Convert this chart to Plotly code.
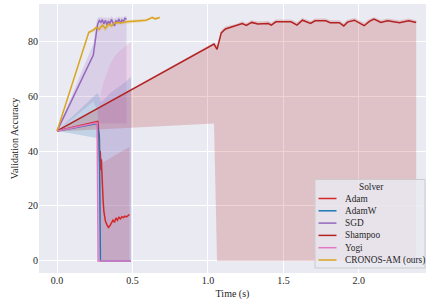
import plotly.graph_objects as go

# ---------------- data ----------------
cronos_x = [0, 0.21, 0.24, 0.26, 0.28, 0.30, 0.32, 0.34, 0.36, 0.38, 0.40, 0.43, 0.46, 0.50, 0.55, 0.59, 0.62, 0.63, 0.65, 0.68]
cronos_y = [47.3, 83.2, 84.0, 85.0, 84.3, 85.8, 84.6, 86.2, 85.6, 86.5, 86.8, 86.7, 87.0, 87.2, 87.4, 87.6, 88.3, 88.6, 88.1, 88.6]
cronos_up = [47.5, 83.8, 84.8, 85.8, 85.5, 86.8, 85.8, 87.2, 86.6, 87.4, 87.6, 87.4, 87.7, 87.8, 88.0, 88.1, 88.7, 89.0, 88.6, 89.0]
cronos_lo = [47.1, 82.6, 83.2, 84.2, 83.1, 84.8, 83.4, 85.2, 84.6, 85.6, 86.0, 86.0, 86.3, 86.6, 86.8, 87.1, 87.9, 88.2, 87.6, 88.2]

sgd_x = [0, 0.24, 0.265, 0.27, 0.28, 0.29, 0.30, 0.31, 0.32, 0.33, 0.34, 0.35, 0.36, 0.37, 0.38, 0.39, 0.40, 0.41, 0.42, 0.43, 0.44, 0.45, 0.46]
sgd_y = [47.3, 74.9, 85.0, 86.3, 87.5, 86.8, 87.8, 86.2, 87.6, 85.9, 87.3, 86.4, 87.9, 86.7, 85.5, 87.4, 86.9, 88.0, 86.5, 87.7, 87.2, 88.3, 87.9]
sgd_up = [47.5, 79.0, 88.0, 88.5, 88.8, 88.6, 88.9, 88.4, 88.8, 88.2, 88.7, 88.4, 89.0, 88.6, 88.0, 88.7, 88.5, 89.0, 88.5, 88.9, 88.7, 89.2, 89.0]
sgd_lo = [47.1, 58.0, 55.0, 52.0, 50.0, 50.0, 50.0, 50.0, 50.0, 50.0, 50.0, 50.0, 50.0, 50.0, 50.0, 50.0, 50.0, 50.0, 50.0, 50.0, 50.0, 50.0, 50.0]

shampoo_x = [0, 1.04, 1.06, 1.088, 1.116, 1.16, 1.19, 1.227, 1.254, 1.29, 1.33, 1.40, 1.42, 1.45, 1.50, 1.55, 1.59, 1.626, 1.68, 1.71, 1.78, 1.81, 1.87, 1.90, 1.925, 1.97, 2.035, 2.07, 2.10, 2.146, 2.19, 2.27, 2.33, 2.38]
shampoo_y = [47.3, 78.9, 77.0, 83.0, 84.4, 85.2, 85.5, 86.4, 85.7, 86.8, 86.2, 86.4, 85.8, 87.0, 87.0, 87.0, 85.8, 87.6, 86.4, 87.4, 87.4, 86.7, 86.7, 85.5, 86.9, 87.6, 85.6, 87.2, 88.0, 86.8, 87.4, 86.7, 87.4, 86.8]
shampoo_up = [47.5, 79.5, 78.5, 84.0, 85.3, 86.0, 86.3, 87.2, 86.6, 87.6, 87.1, 87.3, 86.8, 87.9, 87.9, 87.9, 86.9, 88.4, 87.3, 88.2, 88.2, 87.6, 87.6, 86.6, 87.8, 88.4, 86.7, 88.0, 88.7, 87.7, 88.2, 87.6, 88.2, 87.6]
shampoo_lo = [47.1, 50.0, 0, 0, 0, 0, 0, 0, 0, 0, 0, 0, 0, 0, 0, 0, 0, 0, 0, 0, 0, 0, 0, 0, 0, 0, 0, 0, 0, 0, 0, 0, 0, 0]

adam_x = [0, 0.27, 0.278, 0.282, 0.286, 0.29, 0.293, 0.297, 0.30, 0.305, 0.31, 0.32, 0.33, 0.34, 0.35, 0.36, 0.37, 0.38, 0.39, 0.40, 0.41, 0.42, 0.43, 0.44, 0.45, 0.46, 0.47, 0.48]
adam_y = [47.3, 50.8, 45.0, 36.0, 40.0, 33.0, 37.0, 30.0, 28.0, 22.0, 18.0, 14.5, 13.2, 12.2, 12.8, 13.6, 14.8, 14.0, 15.6, 14.8, 15.9, 15.3, 16.1, 15.8, 16.3, 16.0, 16.6, 16.9]
adam_up = [47.5, 51.2, 50.0, 45.0, 44.0, 40.0, 38.0, 37.0, 36.5, 36.0, 36.0, 36.3, 36.6, 37.0, 37.3, 37.7, 38.0, 38.4, 38.7, 39.0, 39.3, 39.6, 40.0, 40.3, 40.6, 41.0, 41.3, 41.5]
adam_lo = [47.1, 50.2, 30.0, 20.0, 10.0, 5.0, 0, 0, 0, 0, 0, 0, 0, 0, 0, 0, 0, 0, 0, 0, 0, 0, 0, 0, 0, 0, 0, 0]

adamw_x = [0, 0.265, 0.28, 0.287, 0.30, 0.35, 0.40, 0.45, 0.49]
adamw_y = [47.3, 50.0, 45.0, 0, 0, 0, 0, 0, 0]
adamw_up = [47.3, 61.0, 60.0, 58.0, 58.0, 61.0, 63.0, 65.0, 67.0]
adamw_lo = [47.3, 44.7, 0, 0, 0, 0, 0, 0, 0]

yogi_x = [0, 0.265, 0.272, 0.28, 0.29, 0.308, 0.33, 0.352, 0.38, 0.419, 0.45, 0.485, 0.49]
yogi_y = [47.3, 50.3, 0, 0, 0, 0, 0, 0, 0, 0, 0, 0, 0]
yogi_up = [47.5, 51.0, 51.0, 56.0, 61.0, 65.0, 68.8, 71.8, 74.5, 76.7, 78.0, 79.7, 79.8]
yogi_lo = [47.1, 49.5, 0, 0, 0, 0, 0, 0, 0, 0, 0, 0, 0]

solver_names = ["Adam", "AdamW", "SGD", "Shampoo", "Yogi", "CRONOS-AM (ours)"]
line_colors = ["#d62728", "#1f77b4", "#9467bd", "#b22222", "#e377c2", "#daa520"]
band_colors = ["rgba(214,39,40,0.2)", "rgba(31,119,180,0.2)", "rgba(148,103,189,0.2)",
               "rgba(178,34,34,0.2)", "rgba(227,119,194,0.2)", "rgba(218,165,32,0.2)"]
xs_all = [adam_x, adamw_x, sgd_x, shampoo_x, yogi_x, cronos_x]
ys_all = [adam_y, adamw_y, sgd_y, shampoo_y, yogi_y, cronos_y]
up_all = [adam_up, adamw_up, sgd_up, shampoo_up, yogi_up, cronos_up]
lo_all = [adam_lo, adamw_lo, sgd_lo, shampoo_lo, yogi_lo, cronos_lo]

x_ticks = [0.0, 0.5, 1.0, 1.5, 2.0]
y_ticks = [0, 20, 40, 60, 80]

FONT = "Liberation Serif"
TXT = "#262626"

W, H = 427, 305
ML, MR, MT, MB = 39, 1, 4, 32
PW, PH = W - ML - MR, H - MT - MB


def px(x):
    return (x - ML) / PW


def py(y):
    return (H - MB - y) / PH


fig = go.Figure()
for xs, up, lo, fc in zip(xs_all, up_all, lo_all, band_colors):
    fig.add_trace(go.Scatter(
        x=list(xs) + list(xs)[::-1], y=list(up) + list(lo)[::-1],
        fill="toself", fillcolor=fc, line=dict(width=0),
        mode="lines", hoverinfo="skip", showlegend=False))
for name, xs, ys, col in zip(solver_names, xs_all, ys_all, line_colors):
    fig.add_trace(go.Scatter(x=xs, y=ys, mode="lines", name=name, showlegend=False,
                             line=dict(color=col, width=1.5)))

# manual legend (matplotlib-like compact layout)
LEG_FS = 9.3
shapes = [dict(type="rect", xref="paper", yref="paper",
               x0=px(315), x1=px(425), y0=py(268), y1=py(179.5),
               fillcolor="rgba(234,234,242,0.82)", line=dict(color="#cccccc", width=1), layer="above")]
annotations = [dict(text="Solver", xref="paper", yref="paper", x=px(371), y=py(186.5),
                    showarrow=False, xanchor="center", yanchor="middle",
                    font=dict(family=FONT, size=LEG_FS, color=TXT))]
for i, (name, col) in enumerate(zip(solver_names, line_colors)):
    yy = 198.5 + i * 12.3
    shapes.append(dict(type="line", xref="paper", yref="paper",
                       x0=px(318.5), x1=px(336.5), y0=py(yy), y1=py(yy),
                       line=dict(color=col, width=1.5), layer="above"))
    annotations.append(dict(text=name, xref="paper", yref="paper", x=px(342.5), y=py(yy),
                            showarrow=False, xanchor="left", yanchor="middle",
                            font=dict(family=FONT, size=LEG_FS, color=TXT)))

fig.update_layout(
    width=W, height=H,
    margin=dict(l=ML, r=MR, t=MT, b=MB),
    paper_bgcolor="white", plot_bgcolor="#EAEAF2",
    font=dict(family=FONT, size=10, color=TXT),
    showlegend=False, shapes=shapes, annotations=annotations,
)
fig.update_xaxes(range=[-0.12, 2.445], tickvals=x_ticks, ticktext=[f"{v:.1f}" for v in x_ticks],
                 showgrid=True, gridcolor="white", gridwidth=1, zeroline=False, automargin=False,
                 ticks="", title=dict(text="Time (s)", standoff=4, font=dict(size=10)))
fig.update_yaxes(range=[-4.4, 93.5], tickvals=y_ticks, automargin=False,
                 showgrid=True, gridcolor="white", gridwidth=1, zeroline=False,
                 ticks="", title=dict(text="Validation Accuracy", standoff=7, font=dict(size=10)))

fig.write_html("out.html", config={"displayModeBar": False},
               post_script="document.body.style.margin='0';")
